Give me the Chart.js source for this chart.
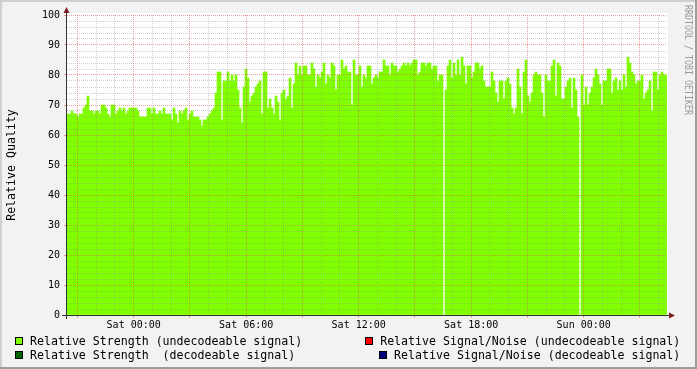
<!DOCTYPE html>
<html>
<head>
<meta charset="utf-8">
<script src="https://cdn.jsdelivr.net/npm/chart.js@4.4.0/dist/chart.umd.min.js"></script>
<style>
html,body{margin:0;padding:0;background:#f2f2f2;overflow:hidden}
canvas{display:block}
</style>
</head>
<body>
<canvas id="c" width="697" height="369" style="width:697px;height:369px"></canvas>
<script>
// ---- time axis (hours relative to Sat 00:00) ----
const startHour = -3.557;          // left edge of the graph (Fri ~20:27)
const spanHours = 32;              // width of the graph in hours
const hourTicks = [];              // one grid line per hour
for (let h = -3; h <= 28; h++) hourTicks.push(h);
const timeLabelHours = [0, 6, 12, 18, 24];
const timeLabels = ['Sat 00:00', 'Sat 06:00', 'Sat 12:00', 'Sat 18:00', 'Sun 00:00'];

// ---- y axis ----
const yMin = 0, yMax = 100, yMinorStep = 2, yMajorStep = 10;
const yTitle = 'Relative Quality';
const watermark = 'RRDTOOL / TOBI OETIKER';

// ---- series (Relative Quality, evenly spaced samples) ----
const strengthUndecodeable = [
  67,67,68,67,67,66,67,67,69,70, 73,68,68,67,68,68,67,70,70,69,
  67,66,70,70,67,68,69,68,69,67, 68,69,69,69,69,68,66,66,66,66,
  69,69,67,69,67,67,68,67,69,67, 67,67,65,69,67,64,68,67,68,
  69,65,67,68,66,66,66,65,63,65, 65,66,67,68,69,74,81,81,65,78,
  78,81,78,80,78,80,75,69,64,76, 82,79,71,73,74,76,77,78,67,81,
  81,69,72,69,67,73,71,65,74,75, 72,73,79,69,77,84,80,83,80,83,
  83,80,80,84,82,76,80,79,81,84, 77,80,79,84,83,75,80,80,85,82,
  83,81,81,70,85,80,80,83,76,80, 79,83,83,77,79,80,79,81,81,85,
  83,83,80,84,83,83,81,82,83,84, 83,84,83,84,85,85,80,81,84,84,
  83,84,84,82,83,83,78,80,80,null, 75,83,85,79,84,80,85,80,86,83,
  77,83,83,79,81,84,84,82,83,78, 76,76,76,81,78,74,71,78,78,72,
  78,79,77,69,67,69,82,76,67,81, 85,73,71,74,80,81,80,80,74,66,
  80,78,78,83,85,73,84,83,72,72, 76,78,79,69,79,75,66,null,80,70,
  76,70,74,76,79,82,80,77,70,78, 78,82,82,74,78,79,75,78,75,80,
  76,86,84,81,80,77,78,78,80,72, 74,75,78,68,81,81,75,80,81,80,
  80
];
const strengthDecodeable = [];
const snrUndecodeable = [];
const snrDecodeable = [];

const legendLabels = [
  'Relative Strength (undecodeable signal)',
  'Relative Signal/Noise (undecodeable signal)',
  'Relative Strength  (decodeable signal)',
  'Relative Signal/Noise (decodeable signal)'
];
const legendColors = ['#7FFF00', '#FF0000', '#006400', '#000080'];

// ---- build library data ----
const stepHours = spanHours / strengthUndecodeable.length;
const points = strengthUndecodeable.map((v, i) => ({ x: startHour + (i + 0.5) * stepHours, y: v }));

const GRID_MINOR = 'rgba(143,143,143,0.42)';
const GRID_MAJOR = 'rgba(222,80,80,0.55)';
const MONO = '"DejaVu Sans Mono", monospace';

const rrdPlugin = {
  id: 'rrd',
  beforeDraw(chart) {
    const ctx = chart.ctx, W = chart.width, H = chart.height, a = chart.chartArea;
    ctx.save();
    ctx.fillStyle = '#F2F2F2'; ctx.fillRect(0, 0, W, H);
    ctx.fillStyle = '#CFCFCF'; ctx.fillRect(0, 0, W, 2); ctx.fillRect(0, 0, 2, H);
    ctx.fillStyle = '#9E9E9E'; ctx.fillRect(0, H - 2, W, 2); ctx.fillRect(W - 2, 0, 2, H);
    ctx.fillStyle = '#FFFFFF'; ctx.fillRect(a.left, a.top - 2, a.right - a.left + 1, a.bottom - a.top + 2);
    ctx.restore();
  },
  afterDraw(chart) {
    const ctx = chart.ctx, a = chart.chartArea;
    ctx.save();
    // axes
    ctx.strokeStyle = '#333333'; ctx.lineWidth = 1;
    ctx.beginPath();
    ctx.moveTo(a.left - 0.5, a.bottom + 4); ctx.lineTo(a.left - 0.5, a.top - 6);
    ctx.moveTo(a.left - 5, a.bottom + 0.5); ctx.lineTo(a.right + 3, a.bottom + 0.5);
    ctx.stroke();
    ctx.fillStyle = '#801F1F';
    ctx.beginPath();
    ctx.moveTo(a.left - 3.5, a.top - 2); ctx.lineTo(a.left + 2.5, a.top - 2); ctx.lineTo(a.left - 0.5, a.top - 8); ctx.closePath(); ctx.fill();
    ctx.beginPath();
    ctx.moveTo(a.right + 2, a.bottom - 2.5); ctx.lineTo(a.right + 2, a.bottom + 3.5); ctx.lineTo(a.right + 8, a.bottom + 0.5); ctx.closePath(); ctx.fill();

    // y title
    ctx.fillStyle = '#000';
    ctx.font = '11.6px ' + MONO;
    ctx.textAlign = 'center'; ctx.textBaseline = 'middle';
    ctx.save();
    ctx.translate(11.5, (a.top + a.bottom) / 2);
    ctx.rotate(-Math.PI / 2);
    ctx.fillText(yTitle, 0, 0);
    ctx.restore();

    // watermark
    ctx.save();
    ctx.fillStyle = '#9A9A9A';
    ctx.font = '8.3px ' + MONO;
    ctx.textAlign = 'left'; ctx.textBaseline = 'middle';
    ctx.translate(688, 5);
    ctx.rotate(Math.PI / 2);
    ctx.scale(1, 1.3);
    ctx.fillText(watermark, 0, 0);
    ctx.restore();

    // legend
    ctx.font = '11.6px ' + MONO;
    ctx.textAlign = 'left'; ctx.textBaseline = 'alphabetic';
    const rows = [345, 359];
    const rightEdge = 680.3;
    legendLabels.forEach((lab, i) => {
      const row = Math.floor(i / 2), col = i % 2;
      const base = rows[row];
      let tx;
      if (col === 0) tx = 30; else tx = rightEdge - ctx.measureText(lab).width;
      const bx = Math.round(tx - 15), by = base - 8;
      ctx.fillStyle = '#000'; ctx.fillRect(bx, by, 8, 8);
      ctx.fillStyle = legendColors[i]; ctx.fillRect(bx + 1, by + 1, 6, 6);
      ctx.fillStyle = '#000'; ctx.fillText(lab, tx, base);
    });
    ctx.restore();
  }
};

new Chart(document.getElementById('c'), {
  type: 'bar',
  data: {
    datasets: [
      { type: 'bar', label: legendLabels[0], data: points, backgroundColor: legendColors[0],
        borderWidth: 0, barPercentage: 1, categoryPercentage: 1 },
      { type: 'line', label: legendLabels[2], data: strengthDecodeable, borderColor: legendColors[2], pointRadius: 0 },
      { type: 'line', label: legendLabels[1], data: snrUndecodeable, borderColor: legendColors[1], pointRadius: 0 },
      { type: 'line', label: legendLabels[3], data: snrDecodeable, borderColor: legendColors[3], pointRadius: 0 }
    ]
  },
  options: {
    responsive: false,
    devicePixelRatio: 1,
    animation: false,
    events: [],
    layout: { padding: { left: 0, top: 15, right: 30, bottom: 0 } },
    plugins: { legend: { display: false }, tooltip: { enabled: false }, title: { display: false } },
    scales: {
      x: {
        type: 'linear',
        min: startHour, max: startHour + spanHours,
        bounds: 'data',
        offset: false,
        afterBuildTicks: s => { s.ticks = hourTicks.map(v => ({ value: v })); },
        afterFit: s => { s.height = 54; },
        grid: {
          offset: false, z: 1, lineWidth: 1, drawTicks: true, tickLength: 3,
          color: c => (((Math.round(c.tick.value) % 3) + 3) % 3 === 0 ? GRID_MAJOR : GRID_MINOR),
          tickColor: c => (((Math.round(c.tick.value) % 3) + 3) % 3 === 0 ? GRID_MAJOR : 'rgba(0,0,0,0)')
        },
        border: { display: false, dash: [1, 1] },
        ticks: {
          autoSkip: false, maxRotation: 0, minRotation: 0, padding: 1,
          color: '#000', font: { family: MONO, size: 10 },
          callback: v => { const k = timeLabelHours.indexOf(Math.round(v)); return k >= 0 ? timeLabels[k] : ''; }
        }
      },
      y: {
        type: 'linear', min: yMin, max: yMax,
        afterFit: s => { s.width = 67; },
        grid: {
          z: 1, lineWidth: 1, drawTicks: true, tickLength: 3,
          color: c => (c.tick.value % yMajorStep === 0 ? GRID_MAJOR : GRID_MINOR),
          tickColor: c => (c.tick.value % yMajorStep === 0 ? GRID_MAJOR : 'rgba(0,0,0,0)')
        },
        border: { display: false, dash: [1, 1] },
        ticks: {
          stepSize: yMinorStep, autoSkip: false, padding: 4,
          color: '#000', font: { family: MONO, size: 10 },
          callback: v => (v % yMajorStep === 0 ? String(v) : '')
        }
      }
    }
  },
  plugins: [rrdPlugin]
});
</script>
</body>
</html>
